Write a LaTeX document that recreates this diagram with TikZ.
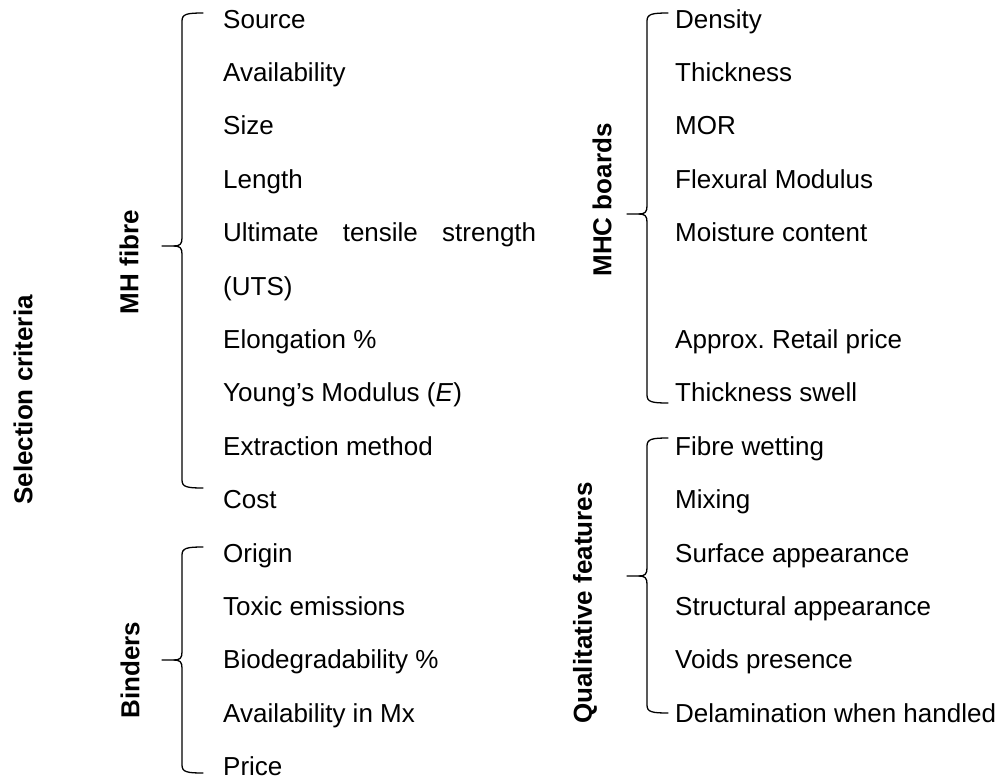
\documentclass[tikz,border=0pt]{standalone}
\usepackage{fontspec}
\setmainfont{Liberation Sans}
\newcommand\itemfont{\fontsize{26}{31}\selectfont}
\newcommand\groupfont{\fontsize{26}{31}\selectfont\bfseries}
% curly brace: spine x, top end, tip, bottom end
\newcommand\drawbrace[4]{%
  \draw[bracestyle] (#1+21,#2) .. controls (#1+5,#2) and (#1,#2+1) .. (#1,#2+8)
    -- (#1,#3-8) .. controls (#1,#3-2) and (#1-2,#3) .. (#1-8,#3) -- (#1-20,#3);
  \draw[bracestyle] (#1-8,#3) .. controls (#1-2,#3) and (#1,#3+2) .. (#1,#3+8)
    -- (#1,#4-8) .. controls (#1,#4-1) and (#1+5,#4) .. (#1+21,#4);}
\begin{document}
\begin{tikzpicture}[x=1pt,y=-1pt,
  item/.style={anchor=base west,inner sep=0pt,font=\itemfont},
  grp/.style={rotate=90,inner sep=0pt,font=\groupfont},
  bracestyle/.style={line width=1.3pt,line cap=round,line join=round}]
\useasboundingbox (0,0) rectangle (1006,780);
\def\rowh{53.4}
% left column
\foreach \t [count=\k from 0] in {Source,Availability,Size,Length,
    {\hbox to 313pt{Ultimate\hfill tensile\hfill strength}},(UTS),Elongation \%,
    {Young’s Modulus (\textit{E})},Extraction method,Cost,
    Origin,Toxic emissions,Biodegradability \%,Availability in Mx,Price}
  \node[item] (l\k) at (223,{19+\k*\rowh+9}) {\t};
% right column
\foreach \t [count=\k from 0] in {Density,Thickness,MOR,Flexural Modulus,Moisture content,
    {},{Approx.\ Retail price},Thickness swell,
    Fibre wetting,Mixing,Surface appearance,Structural appearance,Voids presence,
    Delamination when handled}
  \node[item] (r\k) at (675,{19+\k*\rowh+9}) {\t};
% group labels
\node[grp] (sel) at (23,400) {Selection criteria};
\node[grp] (mh) at (129,262) {MH fibre};
\node[grp] (bind) at (130,670) {Binders};
\node[grp] (mhc) at (602,200) {MHC boards};
\node[grp] (qual) at (585,603) {Qualitative features};
% braces
\drawbrace{182}{13}{246}{488}
\drawbrace{182}{547}{660}{773}
\drawbrace{647}{13}{214}{403}
\drawbrace{647}{438}{576}{713}
\end{tikzpicture}
\end{document}
